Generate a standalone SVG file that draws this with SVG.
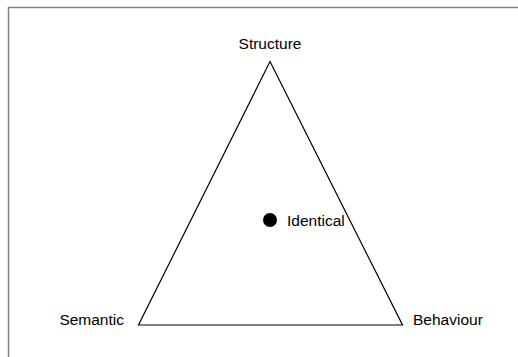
<svg xmlns="http://www.w3.org/2000/svg" width="518" height="357" viewBox="0 0 518 357">
<style>
text{font-family:"Liberation Sans",Arial,sans-serif;font-size:15.5px;fill:#000}
.frame{stroke:#808080;stroke-width:1.5;fill:none}
.edge{stroke:#000;stroke-width:1.2;fill:none}
</style>
<rect width="518" height="357" fill="#fff"/>
<path class="frame" d="M8.5,357 V7.5 H518"/>
<g id="connectors">
<polygon class="edge" points="270,61.5 402.5,325 138.5,325"/>
</g>
<g id="structure"><text x="270" y="48.5" text-anchor="middle">Structure</text></g>
<g id="semantic"><text x="124" y="325" text-anchor="end">Semantic</text></g>
<g id="behaviour"><text x="413" y="325">Behaviour</text></g>
<g id="identical"><circle cx="270" cy="220" r="7" fill="#000"/><text x="287" y="226">Identical</text></g>
</svg>
